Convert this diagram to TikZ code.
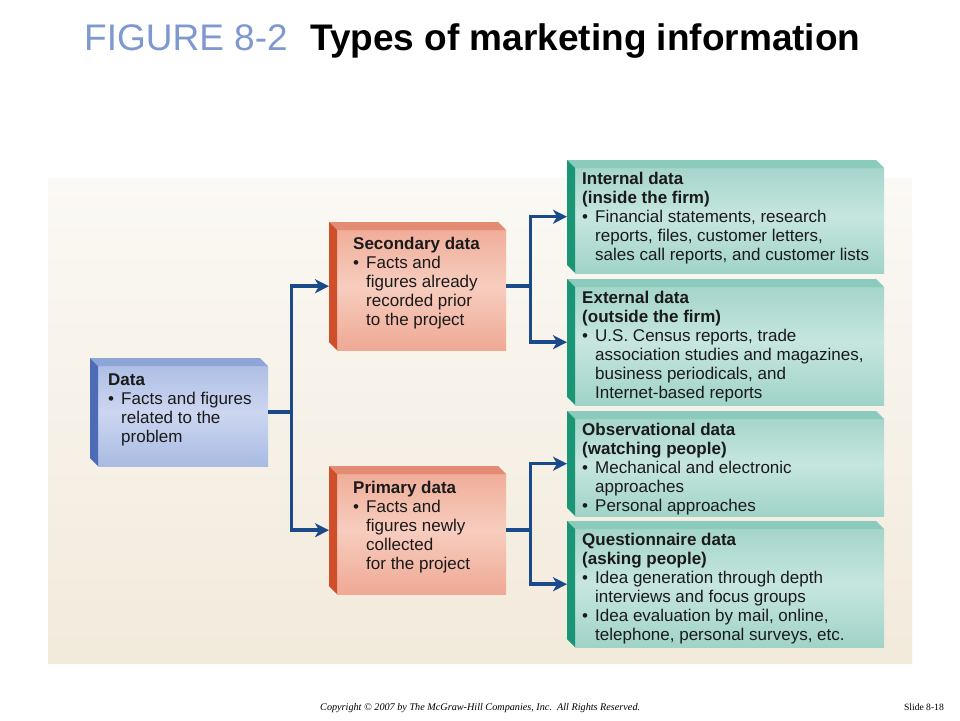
\documentclass[tikz,border=0pt]{standalone}
\usepackage{fontspec}
\setmainfont{Liberation Sans}
\newfontfamily\footfont{Liberation Serif}
\usetikzlibrary{arrows.meta, positioning, calc}
\definecolor{cInk}{HTML}{1A1A1A}
\definecolor{cFig}{HTML}{7F98D0}
\definecolor{cNavy}{HTML}{1B4A8A}
\definecolor{cPanelTop}{HTML}{FBF9F5}
\definecolor{cPanelBot}{HTML}{F2EADB}
\definecolor{cDataA}{HTML}{A9BBE3}
\definecolor{cDataB}{HTML}{CCD6F0}
\definecolor{cDataTop}{HTML}{8EA5D8}
\definecolor{cDataSide}{HTML}{4D6CB8}
\definecolor{cSecA}{HTML}{EFA994}
\definecolor{cSecB}{HTML}{F7CDBF}
\definecolor{cSecTop}{HTML}{E38C73}
\definecolor{cSecSide}{HTML}{CF4F2A}
\definecolor{cTealA}{HTML}{A0D3C8}
\definecolor{cTealB}{HTML}{C6E6DF}
\definecolor{cTealTop}{HTML}{8ACBBD}
\definecolor{cTealSide}{HTML}{1A9676}
\newcommand{\bul}{\makebox[13pt][l]{\textbullet}}
\newcommand{\ind}{\hspace*{13pt}}
% front face, top bevel and left bevel of a raised box
\newcommand{\slabfill}[4]{%
	\shade[top color=#1, bottom color=#1, middle color=#2] ([shift={(8pt,-8pt)}]path picture bounding box.north west) rectangle (path picture bounding box.south east);
	\fill[#3] (path picture bounding box.north west) -- ([xshift=-8pt]path picture bounding box.north east) -- ([yshift=-8pt]path picture bounding box.north east) -- ([shift={(8pt,-8pt)}]path picture bounding box.north west) -- cycle;
	\fill[#4] (path picture bounding box.north west) -- ([shift={(8pt,-8pt)}]path picture bounding box.north west) -- ([xshift=8pt]path picture bounding box.south west) -- ([yshift=8pt]path picture bounding box.south west) -- cycle;}
\tikzset{
	slab/.style     ={rectangle, draw=none, inner sep=0pt, anchor=north west},
	databox/.style  ={slab, minimum width=178pt, minimum height=108pt, path picture={\slabfill{cDataA}{cDataB}{cDataTop}{cDataSide}}},
	salmonbox/.style={slab, minimum width=177pt, minimum height=128pt, path picture={\slabfill{cSecA}{cSecB}{cSecTop}{cSecSide}}},
	tealbox/.style  ={slab, minimum width=317pt, path picture={\slabfill{cTealA}{cTealB}{cTealTop}{cTealSide}}},
	boxtext/.style  ={inner sep=0pt, align=left, text=cInk, font=\fontsize{17}{19}\selectfont},
	link/.style     ={-{Stealth[length=14pt, width=14pt, inset=4pt]}, line width=3.5pt, cNavy},
}
\begin{document}
\begin{tikzpicture}[x=1pt, y=-1pt]
	\useasboundingbox[fill=white] (0,0) rectangle (960,720);
	\fill[top color=cPanelTop, bottom color=cPanelBot] (48,178) rectangle (912,663);
	% title
	\node[anchor=base west, inner sep=0pt, text=cFig, font=\fontsize{37}{40}\selectfont] (fig) at (84,50) {FIGURE 8-2};
	\node[anchor=base west, inner sep=0pt, text=black, font=\fontsize{37}{40}\selectfont\bfseries] (title) at (310,50) {Types of marketing information};
	% boxes
	\node[databox] (data) at (90,358) {};
	\node[salmonbox] (secondary) at (329,222) {};
	\node[salmonbox] (primary) at (329,466) {};
	\node[tealbox, minimum height=113pt] (internal) at (567,160) {};
	\node[tealbox, minimum height=126pt] (external) at (567,279) {};
	\node[tealbox, minimum height=105pt] (observ) at (567,411) {};
	\node[tealbox, minimum height=126pt] (quest) at (567,521) {};
	% texts
	\node[boxtext, below right=16pt and 18pt of data.north west] (datatxt) {\textbf{Data}\\ \bul Facts and figures\\ \ind related to the\\ \ind problem};
	\node[boxtext, below right=15pt and 24pt of secondary.north west] (sectxt) {\textbf{Secondary data}\\ \bul Facts and\\ \ind figures already\\ \ind recorded prior\\ \ind to the project};
	\node[boxtext, below right=15pt and 24pt of primary.north west] (primtxt) {\textbf{Primary data}\\ \bul Facts and\\ \ind figures newly\\ \ind collected\\ \ind for the project};
	\node[boxtext, below right=12pt and 15pt of internal.north west] (inttxt) {\textbf{Internal data}\\ \textbf{(inside the firm)}\\ \bul Financial statements, research\\ \ind reports, files, customer letters,\\ \ind sales call reports, and customer lists};
	\node[boxtext, below right=12pt and 15pt of external.north west] (exttxt) {\textbf{External data}\\ \textbf{(outside the firm)}\\ \bul U.S. Census reports, trade\\ \ind association studies and magazines,\\ \ind business periodicals, and\\ \ind Internet-based reports};
	\node[boxtext, below right=12pt and 15pt of observ.north west] (obstxt) {\textbf{Observational data}\\ \textbf{(watching people)}\\ \bul Mechanical and electronic\\ \ind approaches\\ \bul Personal approaches};
	\node[boxtext, below right=12pt and 15pt of quest.north west] (questtxt) {\textbf{Questionnaire data}\\ \textbf{(asking people)}\\ \bul Idea generation through depth\\ \ind interviews and focus groups\\ \bul Idea evaluation by mail, online,\\ \ind telephone, personal surveys, etc.};
	% connectors
	\draw[link] (data.east) -- ++(23pt,0) |- (secondary.west);
	\draw[link] (data.east) -- ++(23pt,0) |- (primary.west);
	\draw[link] (secondary.east) -- ++(24pt,0) |- (internal.west);
	\draw[link] (secondary.east) -- ++(24pt,0) |- (external.west);
	\draw[link] (primary.east) -- ++(24pt,0) |- (observ.west);
	\draw[link] (primary.east) -- ++(24pt,0) |- (quest.west);
	% footer
	\node[anchor=base west, inner sep=0pt, font=\footfont\itshape\fontsize{10.2}{11}\selectfont] (copy) at (320,710) {Copyright \textcopyright{} 2007 by The McGraw-Hill Companies, Inc.\ \ All Rights Reserved.};
	\node[anchor=base east, inner sep=0pt, font=\footfont\fontsize{9.6}{11}\selectfont] (slide) at (944,710) {Slide 8-18};
\end{tikzpicture}
\end{document}
